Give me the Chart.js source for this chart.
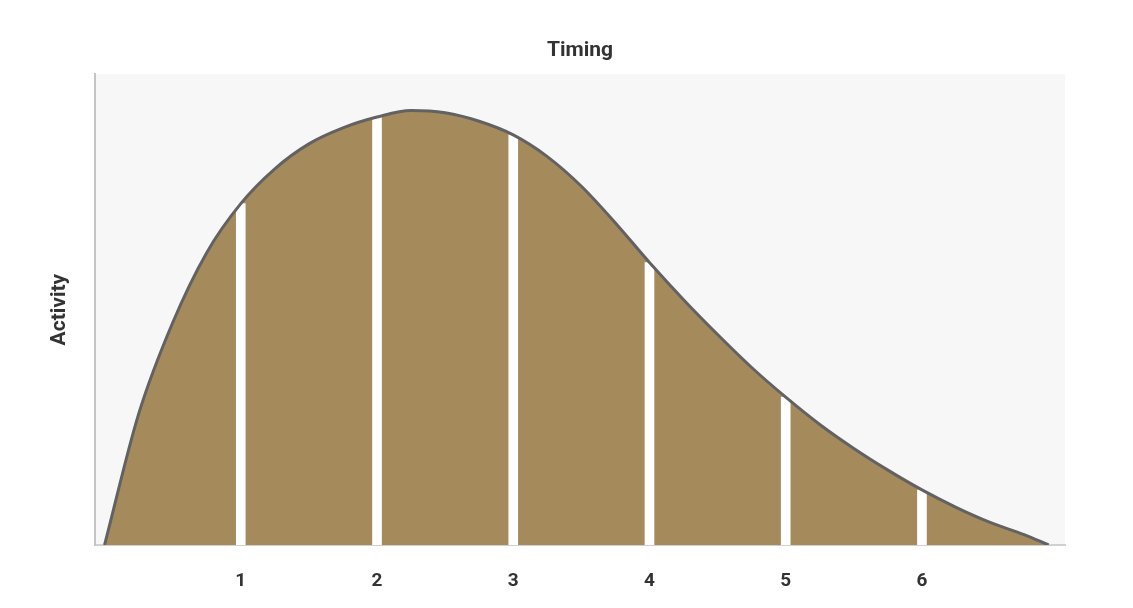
<!DOCTYPE html>
<html>
<head>
<meta charset="utf-8">
<script src="https://cdn.jsdelivr.net/npm/chart.js@4"></script>
<style>
  html, body { margin: 0; padding: 0; background: #fff; }
  #wrap { width: 1133px; height: 608px; }
</style>
</head>
<body>
<div id="wrap"><canvas id="myChart" width="1133" height="608"></canvas></div>
<script>
// curve (x in timing units, y in % of plot height)
let timing   = [0, 0.25, 0.5, 0.75, 1, 1.25, 1.5, 1.75, 2, 2.25, 2.5, 2.75, 3, 3.25, 3.5, 3.75, 4, 4.25, 4.5, 4.75, 5, 5.25, 5.5, 5.75, 6, 6.25, 6.5, 6.75, 6.93];
let activity = [0, 27.8, 47.2, 62.1, 72.5, 79.9, 85.2, 88.6, 90.9, 92.3, 91.8, 90.0, 87.1, 82.5, 76.2, 68.4, 60.0, 52.1, 44.7, 37.7, 31.4, 25.6, 20.5, 15.9, 11.7, 8.0, 4.8, 2.2, 0];
let tickLabels = [1, 2, 3, 4, 5, 6];

let curve = timing.map((t, i) => ({ x: t, y: activity[i] }));
let dividers = tickLabels.map(t => ({ x: t, y: activity[timing.indexOf(t)] }));

// light grey plot background
let plotBg = {
  id: 'plotBg',
  beforeDraw: (chart) => {
    let a = chart.chartArea;
    let ctx = chart.ctx;
    ctx.save();
    ctx.fillStyle = '#f7f7f7';
    ctx.fillRect(a.left, a.top, a.right - a.left, a.bottom - a.top);
    ctx.restore();
  }
};

let ctx = document.getElementById('myChart').getContext('2d');
let chart = new Chart(ctx, {
  type: 'line',
  data: {
    datasets: [{
      label: 'Activity',
      data: curve,
      borderColor: '#626262',
      borderWidth: 3,
      backgroundColor: '#a58b5c',
      fill: 'origin',
      cubicInterpolationMode: 'monotone',
      pointRadius: 0,
      order: 0
    }, {
      type: 'bar',
      label: 'dividers',
      data: dividers,
      backgroundColor: '#ffffff',
      barThickness: 9,
      order: 1
    }]
  },
  options: {
    responsive: false,
    animation: false,
    layout: { padding: { left: 0, right: 68, top: 0, bottom: 0 } },
    plugins: {
      legend: { display: false },
      tooltip: { enabled: false },
      filler: { drawTime: 'beforeDatasetsDraw' },
      title: {
        display: true,
        text: 'Timing',
        fullSize: false,
        color: '#333',
        font: { family: 'Roboto', size: 21, weight: 'bold' },
        padding: { top: 38, bottom: 11 }
      }
    },
    scales: {
      x: {
        type: 'linear',
        offset: false,
        min: -0.07,
        max: 7.05,
        afterBuildTicks: (s) => { s.ticks = tickLabels.map(v => ({ value: v })); },
        afterFit: (s) => { s.height = 63; },
        grid: { display: false, drawTicks: false, offset: false },
        border: { display: true, color: '#d0d0d0', width: 2 },
        ticks: {
          color: '#333',
          padding: 25,
          font: { family: 'Roboto', size: 19, weight: 'bold' }
        }
      },
      y: {
        min: 0,
        max: 100,
        afterFit: (s) => { s.width = 95; },
        grid: { display: false, drawTicks: false },
        border: { display: true, color: '#c4c4c4', width: 2 },
        ticks: { display: false },
        title: {
          display: true,
          text: 'Activity',
          color: '#333',
          font: { family: 'Roboto', size: 21, weight: 'bold' },
          padding: { top: 47, bottom: 0 }
        }
      }
    }
  },
  plugins: [plotBg]
});
</script>
</body>
</html>
